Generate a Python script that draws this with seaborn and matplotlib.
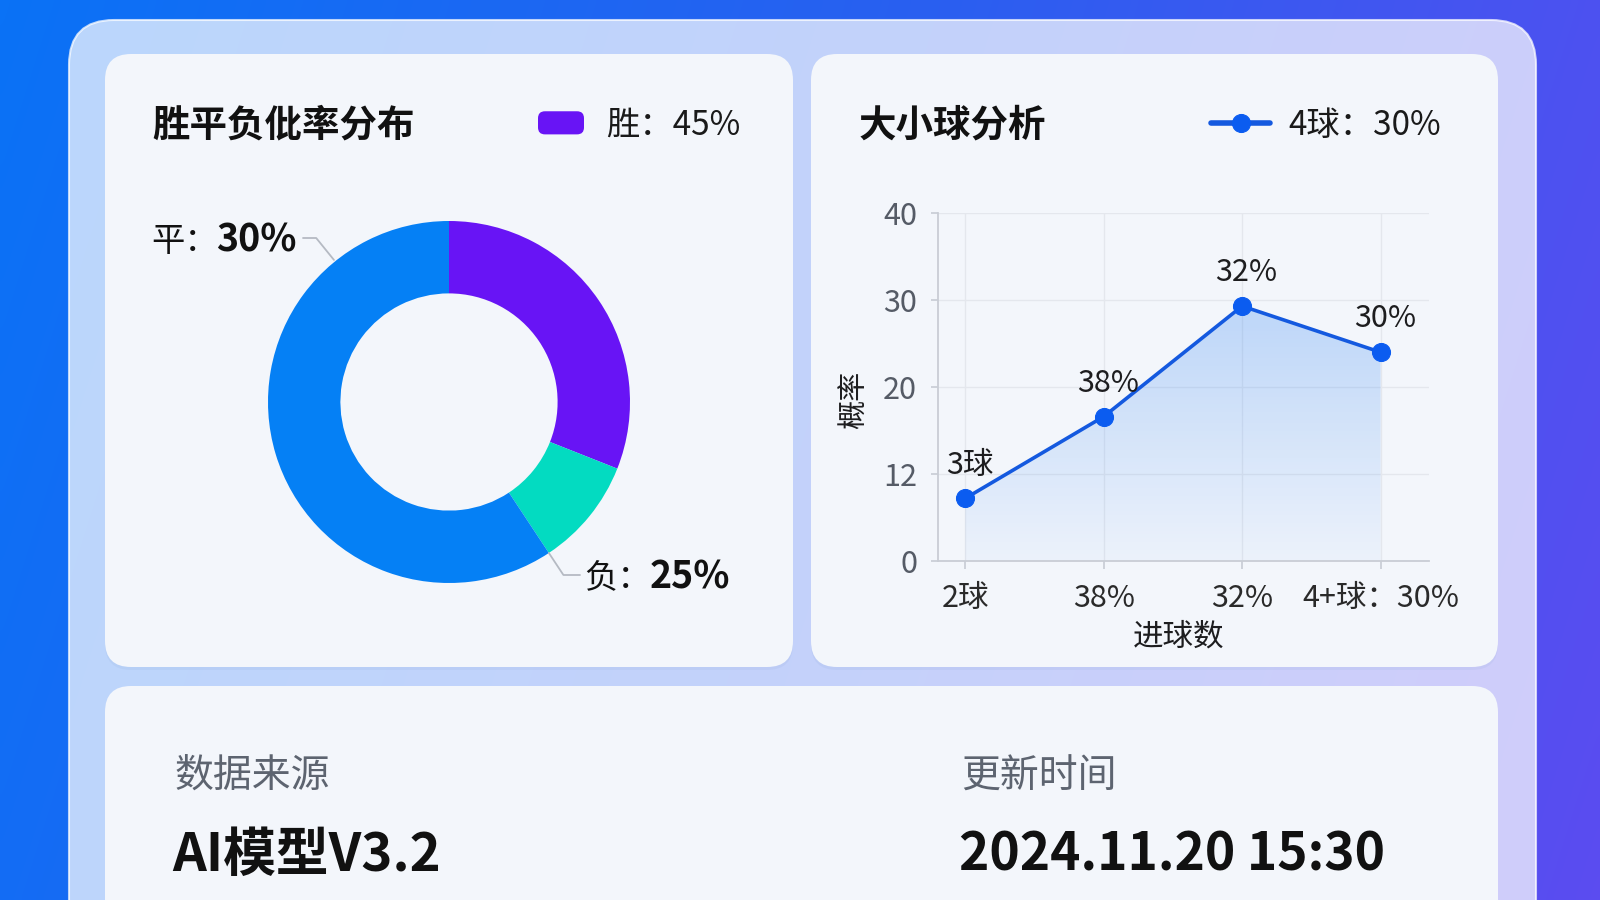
import numpy as np
import matplotlib
matplotlib.use("Agg")
import matplotlib.pyplot as plt
import seaborn as sns
from matplotlib.patches import FancyBboxPatch
from matplotlib.colors import LinearSegmentedColormap
from matplotlib.legend_handler import HandlerPatch

# donut: wedge sizes as drawn (printed labels differ and are kept as text)
outcomes = ["胜", "负", "平"]
outcome_shares = [31, 9.7, 59.3]
outcome_colors = ["#6814f5", "#03dbc1", "#0580f5"]
win_legend = "胜：45%"
draw_label = ["平：", "30%"]
loss_label = ["负：", "25%"]

# goals line chart
goal_ticks = ["2球", "38%", "32%", "4+球：30%"]
goal_probs = [7.2, 16.6, 29.3, 24.0]
point_labels = ["3球", "38%", "32%", "30%"]
y_ticks = [0, 10, 20, 30, 40]
y_tick_labels = ["0", "12", "20", "30", "40"]
line_legend = "4球：30%"

# footer
source_title = "数据来源"
source_name = "AI模型V3.2"
update_title = "更新时间"
update_time = "2024.11.20 15:30"

sns.set_theme(style="white")
plt.rcParams["font.family"] = ["Noto Sans CJK SC", "DejaVu Sans"]

W, H = 1600, 900
fig = plt.figure(figsize=(16, 9), dpi=100)


def box(left, top, width, height):
    # pixel box (from top-left) -> figure fraction
    return [left / W, 1 - (top + height) / H, width / W, height / H]


# ---- background canvas in pixel coords ----
canvas = fig.add_axes([0, 0, 1, 1])
xx, yy = np.meshgrid(np.linspace(0, 1, 320), np.linspace(0, 1, 180))
bg_cmap = LinearSegmentedColormap.from_list("bg", ["#0a72f6", "#2a5ff0", "#5b4cf0"])
canvas.imshow(0.85 * xx + 0.15 * yy, cmap=bg_cmap, extent=(0, W, H, 0),
              aspect="auto", interpolation="bicubic", zorder=0)
canvas.set_xlim(0, W)
canvas.set_ylim(H, 0)
canvas.axis("off")

canvas.add_patch(FancyBboxPatch((69, 20), 1467, 950, boxstyle="round,pad=0,rounding_size=45",
                                fc="white", ec="white", lw=1.5, alpha=0.72, zorder=1))
for x0, y0, w, h in [(105, 54, 688, 613), (811, 54, 687, 613), (105, 686, 1393, 260)]:
    canvas.add_patch(FancyBboxPatch((x0, y0 + 3), w, h, boxstyle="round,pad=0,rounding_size=26",
                                    fc="#8aa6d8", ec="none", alpha=0.12, zorder=2))
    canvas.add_patch(FancyBboxPatch((x0, y0), w, h, boxstyle="round,pad=0,rounding_size=26",
                                    fc="#f3f6fb", ec="none", zorder=3))

canvas.text(152, 125, "胜平负仳率分布", fontsize=27, fontweight="bold", color="#111111", va="center", zorder=5)
canvas.text(859, 125, "大小球分析", fontsize=27, fontweight="bold", color="#111111", va="center", zorder=5)

canvas.text(174, 777, source_title, fontsize=28, color="#5d6470", va="center", zorder=5)
canvas.text(961, 777, update_title, fontsize=28, color="#5d6470", va="center", zorder=5)
canvas.text(172, 855, source_name, fontsize=38, fontweight="bold", color="#111111", va="center", zorder=5)
canvas.text(959, 855, update_time, fontsize=37, fontweight="bold", color="#111111", va="center", zorder=5)

# ---- donut ----
R_PX = 181
ax_pie = fig.add_axes(box(449 - 300, 402 - 300, 600, 600))
wedges, _ = ax_pie.pie(outcome_shares, colors=outcome_colors, startangle=90, counterclock=False,
                       radius=1, wedgeprops=dict(width=0.4, edgecolor="none", linewidth=0))
lim = 300 / R_PX
ax_pie.set_xlim(-lim, lim)
ax_pie.set_ylim(-lim, lim)
ax_pie.set_aspect("equal")
ax_pie.axis("off")


def px(x, y):
    # canvas pixel -> donut data coords
    return (x - 449) / R_PX, (402 - y) / R_PX


leader = dict(arrowstyle="-", color="#b5bac3", lw=1.3, shrinkA=0, shrinkB=0)
draw_angle = 129
a = np.deg2rad(draw_angle)
ax_pie.annotate("", xy=(np.cos(a) * 1.01, np.sin(a) * 1.01), xytext=px(303, 238),
                arrowprops=dict(leader, connectionstyle=f"angle,angleA=0,angleB={draw_angle},rad=0"))
loss_angle = wedges[1].theta1
b = np.deg2rad(loss_angle)
ax_pie.annotate("", xy=(np.cos(b) * 1.0, np.sin(b) * 1.0), xytext=px(580, 575),
                arrowprops=dict(leader, connectionstyle=f"angle,angleA=0,angleB={loss_angle},rad=0"))

ax_pie.text(*px(151, 251), draw_label[0], fontsize=24, color="#111111", ha="left", va="baseline")
ax_pie.text(*px(297, 251), draw_label[1], fontsize=27, fontweight="bold", color="#111111",
            ha="right", va="baseline")
ax_pie.text(*px(584, 588), loss_label[0], fontsize=24, color="#111111", ha="left", va="baseline")
ax_pie.text(*px(730, 588), loss_label[1], fontsize=27, fontweight="bold", color="#111111",
            ha="right", va="baseline")


def rounded_handle(legend, orig_handle, xdescent, ydescent, width, height, fontsize):
    return FancyBboxPatch((-xdescent, -ydescent), width, height,
                          boxstyle=f"round,pad=0,rounding_size={height * 0.3}")


ax_pie.legend([wedges[0]], [win_legend], loc="center left", bbox_to_anchor=(538 / W, 1 - 125 / H),
              bbox_transform=fig.transFigure, frameon=False, borderpad=0, borderaxespad=0,
              handlelength=1.38, handleheight=0.69, handletextpad=0.66, fontsize=24,
              labelcolor="#1a1a1a", handler_map={wedges[0]: HandlerPatch(patch_func=rounded_handle)})

# ---- line chart ----
ax_line = fig.add_axes(box(938, 213, 491, 348))
ax_line.set_facecolor("none")
pos = np.arange(len(goal_ticks))

sns.lineplot(x=pos, y=goal_probs, ax=ax_line, color="#1459df", lw=2.6, marker="o", markersize=13,
             markerfacecolor="#0b5cf0", markeredgecolor="#0b5cf0", label=line_legend, sort=False,
             zorder=4)

fill = ax_line.fill_between(pos, goal_probs, 0, color="none", lw=0)
fill_cmap = LinearSegmentedColormap.from_list(
    "fill", [(0.25, 0.55, 0.96, 0.04), (0.25, 0.55, 0.96, 0.30)])
im = ax_line.imshow(np.linspace(0, 1, 256).reshape(-1, 1), cmap=fill_cmap, origin="lower",
                    extent=(pos[0], pos[-1], 0, max(goal_probs)), aspect="auto", zorder=2)
im.set_clip_path(fill.get_paths()[0], transform=ax_line.transData)

for p, v, t in zip(pos, goal_probs, point_labels):
    ax_line.annotate(t, (p, v), xytext=(3, 24), textcoords="offset points", ha="center",
                     va="center", fontsize=22, color="#1d1d1f", zorder=5)

ax_line.set_xlim(-0.197, 3.35)
ax_line.set_ylim(0, 40)
ax_line.set_xticks(pos, goal_ticks)
ax_line.set_yticks(y_ticks, y_tick_labels)
ax_line.grid(True, color="#e4e7ed", lw=1)
ax_line.set_axisbelow(True)
for s in ["top", "right"]:
    ax_line.spines[s].set_visible(False)
for s in ["left", "bottom"]:
    ax_line.spines[s].set_color("#c9cdd5")
    ax_line.spines[s].set_linewidth(1.3)
ax_line.tick_params(axis="x", bottom=True, length=6, color="#c9cdd5", pad=10, labelsize=22,
                    labelcolor="#2a2a2a")
ax_line.tick_params(axis="y", left=True, length=5, color="#c9cdd5", pad=10, labelsize=22,
                    labelcolor="#555b66")
ax_line.set_xlabel("进球数", fontsize=22, color="#1d1d1f")
ax_line.set_ylabel("概率", fontsize=21, color="#1d1d1f")
ax_line.xaxis.set_label_coords(0.49, -0.175)
ax_line.yaxis.set_label_coords(-0.14, 0.463)

leg = ax_line.legend(loc="center left", bbox_to_anchor=(1211 / W, 1 - 125 / H),
                     bbox_transform=fig.transFigure, frameon=False, borderpad=0, borderaxespad=0,
                     handlelength=1.77, handletextpad=0.54, fontsize=24, labelcolor="#1a1a1a")
for ln in leg.get_lines():
    ln.set_linewidth(4)

fig.savefig("out.png", dpi=100)
